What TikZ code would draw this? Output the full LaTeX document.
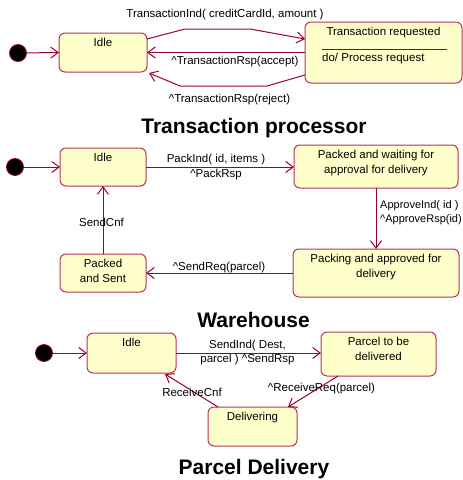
\documentclass[tikz,border=0pt]{standalone}
\usepackage{fontspec}
\setmainfont{Liberation Sans}
\usetikzlibrary{arrows.meta,calc}
\definecolor{arr}{RGB}{153,0,51}
\definecolor{bord}{RGB}{185,50,90}
\definecolor{boxfill}{RGB}{255,255,204}
\begin{document}
\begin{tikzpicture}[x=1pt,y=-1pt,
 box/.style={draw=bord, fill=boxfill, rounded corners=6pt, line width=1pt, inner sep=0pt, outer sep=0pt},
 initdot/.style={circle, fill=black, draw=arr, line width=0.8pt, minimum size=17pt, inner sep=0pt, outer sep=0pt},
 conn/.style={draw=arr, line width=1pt, -{Straight Barb[length=7.5pt,width=11pt]}},
 lbl/.style={font=\fontsize{11.5}{14.5}\selectfont, inner sep=0pt, align=center},
 btext/.style={font=\fontsize{11.5}{14.5}\selectfont, inner sep=0pt, align=center, anchor=north, yshift=-5pt},
 title/.style={font=\fontsize{21}{24}\selectfont\bfseries, inner sep=0pt, anchor=base}]
\useasboundingbox (0,0) rectangle (463,480);

% ---------- Transaction processor ----------
\node[initdot] (d1) at (18,53) {};
\node[box, minimum width=88pt, minimum height=39pt, label={[btext]north:Idle}] (idle1) at (103,52.5) {};
\node[box, minimum width=157pt, minimum height=61pt, label={[btext]north:Transaction requested}] (tr) at (383.5,52.5) {};
\draw[arr, line width=0.8pt] ($(tr.north west)+(17,27)$) -- ($(tr.north east)+(-15,27)$);
\node[lbl, anchor=west] (trdo) at ($(tr.north west)+(17,36.5)$) {do/ Process request};

\draw[conn] (d1) -- (idle1.west);
\draw[conn] ($(idle1.north east)+(0,6)$) -- (185,29) -- (250,29) -- ($(tr.north west)+(0,17)$);
\draw[conn] (tr.west) -- (idle1.east);
\draw[conn] ($(tr.south west)+(0,-8)$) -- (267,86) -- (180,86) -- ($(idle1.south east)+(2,1)$);

\node[lbl] (l1a) at (225,15) {TransactionInd( creditCardId, amount )};
\node[lbl] (l1b) at (235,61.5) {\textasciicircum TransactionRsp(accept)};
\node[lbl] (l1c) at (229.5,99.5) {\textasciicircum TransactionRsp(reject)};
\node[title] (t1) at (254,133) {Transaction processor};

% ---------- Warehouse ----------
\node[initdot] (d2) at (15,167) {};
\node[box, minimum width=86pt, minimum height=38pt, label={[btext]north:Idle}] (idle2) at (103,167) {};
\node[box, minimum width=164pt, minimum height=43pt, label={[btext]north:{Packed and waiting for\\approval for delivery}}] (pw) at (376,166.5) {};
\node[box, minimum width=166pt, minimum height=48pt, label={[btext]north:{Packing and approved for\\delivery}}] (pa) at (376,273) {};
\node[box, minimum width=86pt, minimum height=38pt, label={[btext]north:{Packed\\and Sent}}] (ps) at (103,273) {};

\draw[conn] (d2) -- (idle2.west);
\draw[conn] (idle2.east) -- (idle2.east -| pw.west);
\draw[conn] (pw.south) -- (pa.north);
\draw[conn] (pa.west) -- (pa.west -| ps.east);
\draw[conn] (ps.north) -- (idle2.south);

\node[lbl] (l2a) at (216,167) {PackInd( id, items )\\\textasciicircum PackRsp};
\node[lbl, font=\fontsize{11}{14.5}\selectfont, align=left, anchor=west] (l2b) at (380,212.5) {ApproveInd( id )\\\textasciicircum ApproveRsp(id)};
\node[lbl] (l2c) at (219,268) {\textasciicircum SendReq(parcel)};
\node[lbl] (l2d) at (101.5,222) {SendCnf};
\node[title] (t2) at (253.5,327) {Warehouse};

% ---------- Parcel Delivery ----------
\node[initdot] (d3) at (44,353) {};
\node[box, minimum width=89pt, minimum height=40pt, label={[btext]north:Idle}] (idle3) at (131.5,353) {};
\node[box, minimum width=115pt, minimum height=44pt, label={[btext]north:{Parcel to be\\delivered}}] (pd) at (378.5,354) {};
\node[box, minimum width=89pt, minimum height=39pt, label={[btext]north:Delivering}] (del) at (252.5,426.5) {};

\draw[conn] (d3) -- (idle3.west);
\draw[conn] (idle3.east) -- (idle3.east -| pd.west);
\draw[conn] ($(pd.south west)+(17,0)$) -- ($(del.north east)+(-9,0)$);
\draw[conn] ($(del.north west)+(10,0)$) -- ($(idle3.south east)+(-11,1)$);

\node[lbl] (l3a) at (247.5,352.5) {SendInd( Dest,\\parcel ) \textasciicircum SendRsp};
\node[lbl] (l3b) at (321.5,389) {\textasciicircum ReceiveReq(parcel)};
\node[lbl] (l3c) at (192,392) {ReceiveCnf};
\node[title] (t3) at (254,474) {Parcel Delivery};
\end{tikzpicture}
\end{document}
